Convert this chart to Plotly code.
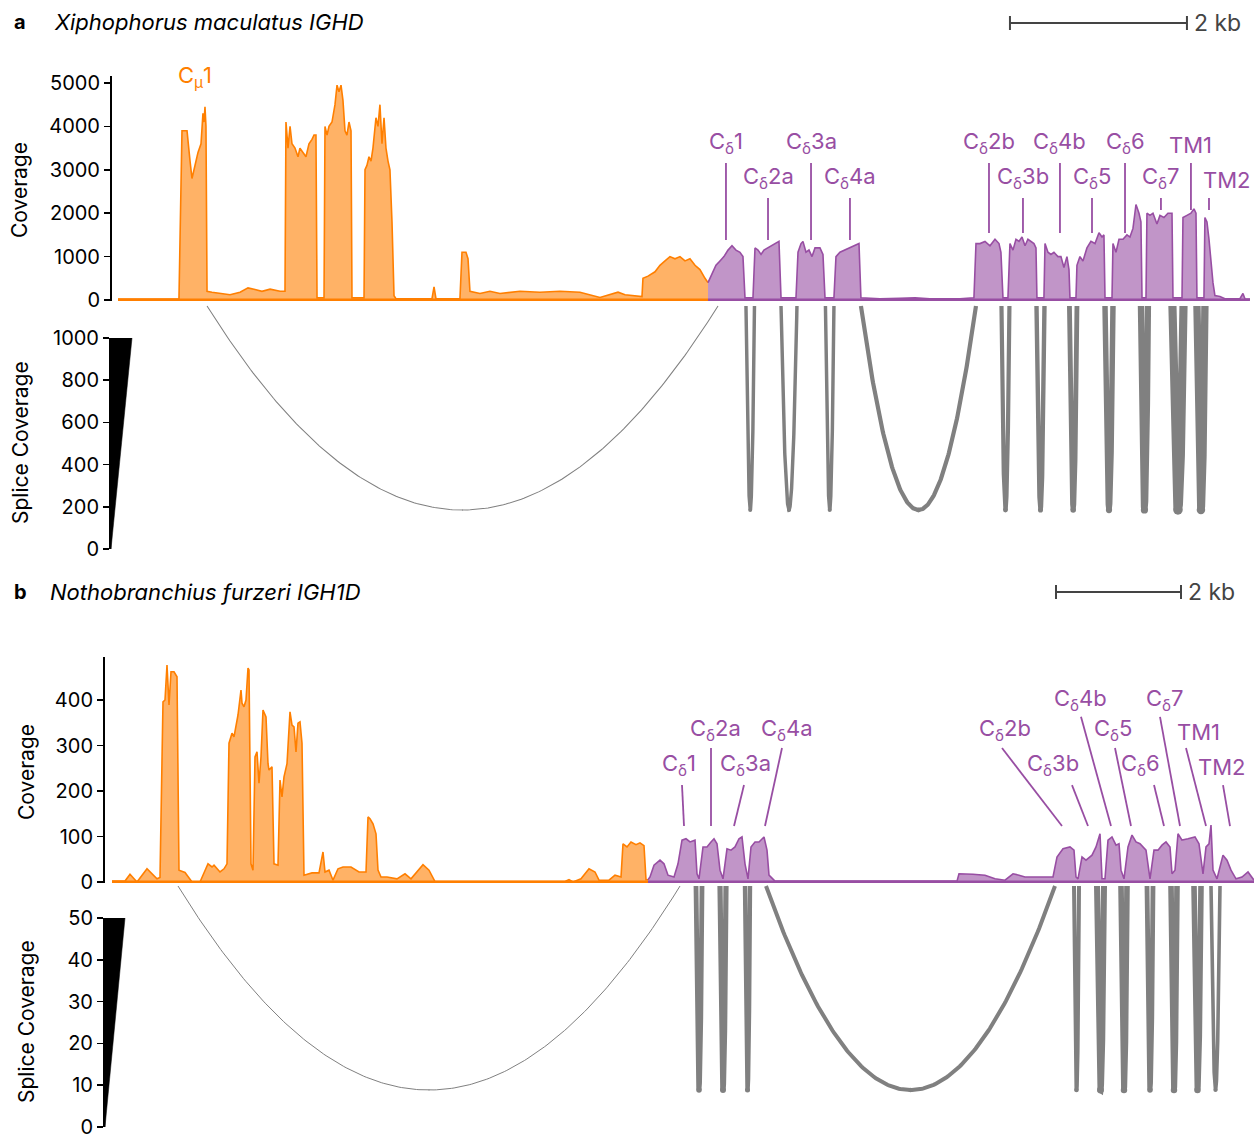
import numpy as np
import plotly.graph_objects as go

W, H = 1260, 1140
FONT = "Inter"
ORANGE = "#FF7F00"
ORANGE_FILL = "rgba(255,127,0,0.6)"
PURPLE = "#984EA3"
PURPLE_FILL = "rgba(152,78,163,0.6)"
ARC_GREY = "#808080"
SCALE_GREY = "#444444"

# ===================== DATA =====================
# ---- Panel a: Xiphophorus maculatus IGHD (positions in kb, coverage in reads) ----
a_mu_pos = [0.000, 0.362, 0.689, 0.723, 0.780, 0.814, 0.836, 0.870, 0.904, 0.938, 0.960, 0.972, 0.983, 0.994,
            1.006, 1.062, 1.153, 1.266, 1.379, 1.469, 1.548, 1.627, 1.718, 1.831, 1.887, 1.898, 1.921, 1.944,
            1.966, 2.000, 2.034, 2.056, 2.090, 2.124, 2.158, 2.192, 2.215, 2.237, 2.249, 2.328, 2.339, 2.362,
            2.384, 2.418, 2.452, 2.475, 2.497, 2.520, 2.542, 2.565, 2.587, 2.610, 2.633, 2.644, 2.780, 2.791,
            2.813, 2.836, 2.859, 2.881, 2.915, 2.938, 2.960, 2.983, 3.006, 3.028, 3.051, 3.073, 3.096, 3.119,
            3.141, 3.548, 3.571, 3.593, 3.864, 3.887, 3.932, 3.955, 3.977, 4.090, 4.203, 4.316, 4.542, 4.768,
            4.994, 5.220, 5.446, 5.559, 5.650, 5.729, 5.842, 5.921, 5.932, 5.989, 6.068, 6.124, 6.181, 6.237,
            6.294, 6.350, 6.407, 6.463, 6.520, 6.576, 6.633, 6.667]
a_mu_cov = [20, 30, 30, 3900, 3900, 3200, 2800, 3100, 3400, 3600, 4300, 4100, 4450, 4000,
            200, 180, 150, 120, 180, 280, 240, 200, 250, 200, 200, 4100, 3500, 4000,
            3600, 3500, 3300, 3500, 3400, 3300, 3600, 3700, 3800, 3800, 50, 50, 4000, 3800,
            4000, 4100, 4500, 4950, 4800, 4950, 4600, 3900, 3800, 4100, 3900, 50, 50, 3000,
            3100, 3300, 3200, 3500, 4200, 4000, 4500, 3600, 4200, 3500, 3200, 3000, 1800, 100,
            30, 30, 300, 30, 30, 1100, 1100, 950, 200, 150, 200, 150, 200, 180,
            200, 180, 60, 120, 180, 120, 100, 80, 500, 550, 650, 800, 900, 1000,
            950, 1000, 900, 950, 800, 700, 500, 400]

a_de_pos = [6.667, 6.712, 6.757, 6.802, 6.847, 6.893, 6.938, 6.983, 7.028, 7.062,
            7.085, 7.175, 7.198, 7.232, 7.266, 7.299, 7.345, 7.390, 7.435, 7.469,
            7.492, 7.661, 7.684, 7.718, 7.740, 7.774, 7.808, 7.842, 7.876, 7.932,
            7.966, 7.989, 8.090, 8.113, 8.158, 8.215, 8.271, 8.328, 8.373, 8.395,
            8.610, 8.836, 9.006, 9.175, 9.514, 9.672, 9.695, 9.740, 9.797, 9.853,
            9.910, 9.955, 9.977, 10.000, 10.056, 10.079, 10.113, 10.147, 10.181, 10.215,
            10.249, 10.282, 10.316, 10.350, 10.373, 10.384, 10.463, 10.475, 10.508, 10.542,
            10.576, 10.621, 10.655, 10.689, 10.723, 10.746, 10.757, 10.825, 10.836, 10.870,
            10.904, 10.949, 10.994, 11.040, 11.085, 11.119, 11.141, 11.153, 11.232, 11.243,
            11.277, 11.311, 11.356, 11.401, 11.435, 11.469, 11.503, 11.537, 11.559, 11.571,
            11.616, 11.627, 11.661, 11.695, 11.740, 11.774, 11.819, 11.864, 11.910, 11.921,
            12.023, 12.034, 12.079, 12.124, 12.158, 12.181, 12.192, 12.271, 12.282, 12.305,
            12.328, 12.350, 12.373, 12.395, 12.452, 12.508, 12.678, 12.712, 12.734, 12.791]
a_de_cov = [400, 600, 800, 900, 1000, 1150, 1250, 1150, 1100, 1000,
            50, 50, 1200, 1150, 1050, 1150, 1200, 1250, 1300, 1350,
            50, 50, 1100, 1300, 1350, 1100, 1150, 1000, 1200, 1200,
            1050, 50, 50, 1000, 1100, 1150, 1200, 1250, 1300, 50,
            30, 40, 50, 30, 30, 50, 1300, 1300, 1350, 1250,
            1400, 1300, 1100, 50, 50, 1300, 1150, 1400, 1350, 1450,
            1250, 1400, 1350, 1300, 1200, 50, 50, 1300, 1100, 1050,
            1100, 1000, 1000, 750, 1000, 700, 50, 50, 800, 1000,
            900, 1200, 1350, 1300, 1550, 1450, 1500, 50, 50, 1300,
            1100, 1400, 1400, 1500, 1450, 1650, 2200, 2000, 1800, 50,
            50, 2000, 1950, 2000, 1750, 1950, 1900, 2000, 2000, 50,
            50, 1900, 1950, 2000, 2100, 2000, 50, 50, 1900, 1800,
            1400, 900, 400, 100, 80, 30, 30, 150, 30, 20]

a_cov_ticks = [0, 1000, 2000, 3000, 4000, 5000]
a_splice_ticks = [0, 200, 400, 600, 800, 1000]
a_splice_max = 1000

a_exon_names = ["C<sub>δ</sub>1", "C<sub>δ</sub>2a", "C<sub>δ</sub>3a", "C<sub>δ</sub>4a",
                "C<sub>δ</sub>2b", "C<sub>δ</sub>3b", "C<sub>δ</sub>4b", "C<sub>δ</sub>5",
                "C<sub>δ</sub>6", "C<sub>δ</sub>7", "TM1", "TM2"]
a_text_x = [6.870, 7.345, 7.831, 8.271, 9.842, 10.226, 10.644, 11.006, 11.379, 11.785, 12.124, 12.531]
a_text_y = [3618, 2811, 3618, 2811, 3618, 2811, 3618, 2811, 3618, 2811, 3571, 2765]
a_line_x_top = [6.870, 7.345, 7.831, 8.271, 9.842, 10.226, 10.644, 11.006, 11.379, 11.785, 12.124, 12.328]
a_line_x_bot = [6.870, 7.345, 7.831, 8.271, 9.842, 10.226, 10.644, 11.006, 11.379, 11.785, 12.124, 12.328]
a_line_y_top = [3157, 2350, 3157, 2350, 3157, 2350, 3157, 2350, 3157, 2350, 3157, 2350]
a_line_y_bot = [1382, 1382, 1382, 1382, 1544, 1544, 1544, 1544, 1544, 2074, 2074, 2074]
a_mu_label_x, a_mu_label_y = 0.870, 5138

a_junc_start = [1.006, 7.096, 7.492, 7.994, 8.395, 9.983, 10.379, 10.751, 11.153, 11.559, 11.915, 12.192]
a_junc_end = [6.780, 7.192, 7.672, 8.090, 9.695, 10.073, 10.469, 10.836, 11.243, 11.638, 12.040, 12.282]
a_junc_cov = [50, 165, 165, 165, 200, 200, 210, 230, 260, 300, 390, 350]

# ---- Panel b: Nothobranchius furzeri IGH1D ----
b_mu_pos = [0.000, 0.208, 0.288, 0.400, 0.560, 0.720, 0.768, 0.816, 0.848, 0.880, 0.912, 0.944, 0.992, 1.040,
            1.072, 1.168, 1.280, 1.408, 1.536, 1.600, 1.632, 1.728, 1.792, 1.840, 1.872, 1.920, 1.952, 1.984,
            2.016, 2.064, 2.080, 2.112, 2.144, 2.176, 2.192, 2.224, 2.256, 2.288, 2.320, 2.352, 2.384, 2.416,
            2.464, 2.496, 2.512, 2.560, 2.592, 2.656, 2.688, 2.720, 2.752, 2.800, 2.848, 2.880, 2.912, 2.944,
            2.976, 3.008, 3.040, 3.072, 3.200, 3.312, 3.360, 3.376, 3.408, 3.472, 3.536, 3.616, 3.696, 3.824,
            3.952, 4.064, 4.096, 4.128, 4.176, 4.224, 4.256, 4.304, 4.400, 4.560, 4.688, 4.784, 4.976, 5.072,
            5.168, 7.248, 7.312, 7.376, 7.504, 7.632, 7.728, 7.792, 7.952, 8.048, 8.144, 8.176, 8.240, 8.304,
            8.384, 8.448, 8.512, 8.544, 8.576]
b_mu_cov = [2, 2, 17, 0, 29, 7, 10, 396, 400, 477, 389, 462, 462, 451,
            26, 21, 0, 0, 40, 33, 37, 22, 29, 40, 305, 327, 319, 345,
            367, 422, 393, 385, 400, 470, 466, 40, 26, 275, 286, 217, 275, 378,
            363, 260, 246, 253, 40, 37, 224, 187, 231, 260, 374, 345, 341, 286,
            349, 352, 305, 15, 20, 20, 56, 66, 22, 26, 4, 29, 33, 33,
            22, 22, 143, 139, 128, 106, 26, 11, 11, 7, 18, 7, 38, 26,
            1, 1, 5, 0, 7, 29, 22, 4, 4, 15, 11, 84, 77, 88,
            82, 86, 80, 5, 5]

b_de_pos = [8.576, 8.608, 8.672, 8.768, 8.832, 8.896, 8.992, 9.056, 9.120, 9.184,
            9.248, 9.328, 9.360, 9.392, 9.456, 9.520, 9.584, 9.632, 9.680, 9.728,
            9.776, 9.840, 9.904, 9.968, 10.032, 10.080, 10.128, 10.176, 10.224, 10.288,
            10.352, 10.432, 10.480, 10.512, 10.608, 13.520, 13.552, 13.616, 13.776, 13.968,
            14.128, 14.288, 14.416, 14.512, 14.608, 14.736, 14.928, 15.056, 15.120, 15.216,
            15.328, 15.392, 15.424, 15.456, 15.520, 15.584, 15.680, 15.744, 15.808, 15.840,
            15.888, 15.936, 16.000, 16.064, 16.112, 16.144, 16.192, 16.256, 16.320, 16.384,
            16.448, 16.544, 16.608, 16.672, 16.736, 16.800, 16.864, 16.928, 16.960, 17.008,
            17.056, 17.120, 17.216, 17.328, 17.392, 17.456, 17.504, 17.552, 17.584, 17.616,
            17.680, 17.776, 17.840, 17.904, 17.984, 18.080, 18.176, 18.272]
b_de_cov = [5, 11, 37, 48, 40, 15, 11, 40, 92, 95,
            88, 92, 18, 7, 77, 77, 88, 95, 84, 26,
            7, 73, 70, 77, 95, 99, 40, 7, 77, 88,
            88, 99, 70, 15, 2, 2, 18, 18, 17, 15,
            7, 4, 18, 15, 11, 11, 11, 11, 55, 73,
            77, 70, 11, 7, 55, 48, 59, 77, 106, 7,
            7, 92, 99, 81, 84, 26, 7, 77, 103, 88,
            84, 70, 7, 70, 70, 81, 88, 77, 18, 26,
            106, 92, 95, 99, 84, 18, 77, 84, 125, 26,
            7, 59, 48, 26, 7, 11, 22, 4]

b_cov_ticks = [0, 100, 200, 300, 400]
b_splice_ticks = [0, 10, 20, 30, 40, 50]
b_splice_max = 50

b_exon_names = a_exon_names
b_text_x = [9.072, 9.648, 10.128, 10.800, 14.288, 15.056, 15.488, 16.016, 16.448, 16.848, 17.376, 17.760]
b_text_y = [257, 334, 257, 334, 334, 257, 400, 334, 257, 400, 330, 253]
b_line_x_top = [9.120, 9.584, 10.112, 10.720, 14.240, 15.360, 15.504, 16.048, 16.672, 16.768, 17.184, 17.776]
b_line_x_bot = [9.152, 9.584, 9.952, 10.448, 15.200, 15.616, 15.984, 16.304, 16.832, 17.088, 17.504, 17.888]
b_line_y_top = [213, 294.5, 213, 294.5, 294.5, 213, 363, 294.5, 213, 363, 294.5, 213]
b_line_y_bot = [123] * 12
b_mu_label_x, b_mu_label_y = 0.960, 547

b_junc_start = [1.056, 9.344, 9.728, 10.128, 10.464, 15.392, 15.760, 16.144, 16.560, 16.944, 17.312, 17.584]
b_junc_end = [9.088, 9.440, 9.824, 10.208, 15.088, 15.472, 15.872, 16.240, 16.656, 17.040, 17.424, 17.728]
b_junc_cov = [2.5, 12, 13, 11, 10, 10, 15, 14, 12, 14, 14, 9]

SCALE_BAR_KB = 2

# ===================== LAYOUT GEOMETRY (pixels) =====================
panels = [
    dict(n0=1, letter="a", title="Xiphophorus maculatus IGHD", title_y=22, title_x=52,
         mu_pos=a_mu_pos, mu_cov=a_mu_cov, de_pos=a_de_pos, de_cov=a_de_cov,
         names=a_exon_names, tx=a_text_x, ty=a_text_y, lxt=a_line_x_top, lxb=a_line_x_bot,
         lyt=a_line_y_top, lyb=a_line_y_bot, mux=a_mu_label_x, muy=a_mu_label_y,
         js=a_junc_start, je=a_junc_end, jc=a_junc_cov,
         cov_ticks=a_cov_ticks, splice_ticks=a_splice_ticks, splice_max=a_splice_max,
         x_left=112, x_right=1252, x_range=[-0.0678, 12.814],
         cov_top=76, cov_bottom=301, cov_range=[-23, 5161],
         leg_left=111, leg_top=338, leg_bottom=549, wedge_px=21,
         arc_dom=(303, 520), arc_range=[-1.049, 0.0147],
         scale_x0=10.079, scale_y=23, cov_title_x=20, cov_title_y=190,
         spl_title_x=20, spl_title_y=443),
    dict(n0=4, letter="b", title="Nothobranchius furzeri IGH1D", title_y=592, title_x=48,
         mu_pos=b_mu_pos, mu_cov=b_mu_cov, de_pos=b_de_pos, de_cov=b_de_cov,
         names=b_exon_names, tx=b_text_x, ty=b_text_y, lxt=b_line_x_top, lxb=b_line_x_bot,
         lyt=b_line_y_top, lyb=b_line_y_bot, mux=b_mu_label_x, muy=b_mu_label_y,
         js=b_junc_start, je=b_junc_end, jc=b_junc_cov,
         cov_ticks=b_cov_ticks, splice_ticks=b_splice_ticks, splice_max=b_splice_max,
         x_left=105, x_right=1254, x_range=[-0.112, 18.272],
         cov_top=657, cov_bottom=883, cov_range=[-2.2, 494.5],
         leg_left=105, leg_top=918, leg_bottom=1127, wedge_px=20,
         arc_dom=(884, 1100), arc_range=[-1.049, 0.0098],
         scale_x0=15.104, scale_y=592, cov_title_x=26, cov_title_y=1022 - 250,
         spl_title_x=26, spl_title_y=1022),
]


def ref(i, letter):
    return letter + ("" if i == 1 else str(i))


def axname(i, letter):
    return letter + "axis" + ("" if i == 1 else str(i))


def py(p):
    return 1 - p / H


fig = go.Figure()
layout_axes = {}
annotations = []
shapes = []

tickstyle = dict(showline=True, linecolor="black", linewidth=2, ticks="outside", ticklen=6,
                 tickwidth=1.5, tickcolor="black", showgrid=False, zeroline=False, automargin=False,
                 ticklabeloverflow="allow",
                 tickfont=dict(family=FONT, size=20, color="black"))

for p in panels:
    ic, il, ia = p["n0"], p["n0"] + 1, p["n0"] + 2
    xc, yc = ref(ic, "x"), ref(ic, "y")
    xl, yl = ref(il, "x"), ref(il, "y")
    xa, ya = ref(ia, "x"), ref(ia, "y")

    # coverage areas
    fig.add_trace(go.Scatter(x=p["mu_pos"], y=p["mu_cov"], mode="lines",
                             line=dict(color=ORANGE, width=1.6), fill="tozeroy",
                             fillcolor=ORANGE_FILL, xaxis=xc, yaxis=yc, hoverinfo="skip"))
    fig.add_trace(go.Scatter(x=p["de_pos"], y=p["de_cov"], mode="lines",
                             line=dict(color=PURPLE, width=1.6), fill="tozeroy",
                             fillcolor=PURPLE_FILL, xaxis=xc, yaxis=yc, hoverinfo="skip"))
    # baselines
    fig.add_trace(go.Scatter(x=[p["mu_pos"][0], p["mu_pos"][-1]], y=[0, 0], mode="lines",
                             line=dict(color=ORANGE, width=3), xaxis=xc, yaxis=yc, hoverinfo="skip"))
    fig.add_trace(go.Scatter(x=[p["de_pos"][0], p["de_pos"][-1]], y=[0, 0], mode="lines",
                             line=dict(color=PURPLE, width=3), xaxis=xc, yaxis=yc, hoverinfo="skip"))

    # leader lines
    lx, ly = [], []
    for x0, x1, y0, y1 in zip(p["lxt"], p["lxb"], p["lyt"], p["lyb"]):
        lx += [x0, x1, None]
        ly += [y0, y1, None]
    fig.add_trace(go.Scatter(x=lx, y=ly, mode="lines", line=dict(color=PURPLE, width=1.8),
                             xaxis=xc, yaxis=yc, hoverinfo="skip"))

    for name, x, y in zip(p["names"], p["tx"], p["ty"]):
        annotations.append(dict(text=name, x=x, y=y, xref=xc, yref=yc, showarrow=False,
                                xanchor="center", yanchor="middle",
                                font=dict(family=FONT, size=22, color=PURPLE)))
    annotations.append(dict(text="C<sub>μ</sub>1", x=p["mux"], y=p["muy"], xref=xc, yref=yc,
                            showarrow=False, xanchor="center", yanchor="middle",
                            font=dict(family=FONT, size=22, color=ORANGE)))

    # splice arcs (parabolic), width proportional to splice coverage
    t = np.linspace(0, 1, 201)
    for s, e, c in zip(p["js"], p["je"], p["jc"]):
        wpx = c * p["wedge_px"] / p["splice_max"]
        fig.add_trace(go.Scatter(x=s + (e - s) * t, y=-4 * t * (1 - t), mode="lines",
                                 line=dict(color=ARC_GREY, width=wpx),
                                 xaxis=xa, yaxis=ya, hoverinfo="skip"))
        # rounded bottom of the arc
        fig.add_trace(go.Scatter(x=[(s + e) / 2], y=[-1], mode="markers",
                                 marker=dict(color=ARC_GREY, size=wpx * 1.15, line=dict(width=0)),
                                 xaxis=xa, yaxis=ya, hoverinfo="skip"))

    # wedge legend for splice coverage
    fig.add_trace(go.Scatter(x=[0, 0, p["wedge_px"], 0], y=[0, p["splice_max"], p["splice_max"], 0],
                             mode="lines", fill="toself", fillcolor="black",
                             line=dict(color="black", width=0.5), xaxis=xl, yaxis=yl, hoverinfo="skip"))

    # axes
    xdom = [p["x_left"] / W, p["x_right"] / W]
    layout_axes[axname(ic, "x")] = dict(domain=xdom, range=p["x_range"], anchor=yc, visible=False)
    layout_axes[axname(ic, "y")] = dict(domain=[py(p["cov_bottom"]), py(p["cov_top"])],
                                        range=p["cov_range"], anchor=xc, tickvals=p["cov_ticks"],
                                        **tickstyle)
    layout_axes[axname(il, "x")] = dict(domain=[p["leg_left"] / W, (p["leg_left"] + 30) / W],
                                        range=[0, 30], anchor=yl, visible=False)
    layout_axes[axname(il, "y")] = dict(domain=[py(p["leg_bottom"]), py(p["leg_top"])],
                                        range=[0, p["splice_max"]], anchor=xl,
                                        tickvals=p["splice_ticks"], **tickstyle)
    layout_axes[axname(ia, "x")] = dict(domain=xdom, range=p["x_range"], anchor=ya, visible=False)
    layout_axes[axname(ia, "y")] = dict(domain=[py(p["arc_dom"][1]), py(p["arc_dom"][0])],
                                        range=p["arc_range"], anchor=xa, visible=False)

    # titles
    annotations.append(dict(text="<b>" + p["letter"] + "</b>", x=12 / W, y=py(p["title_y"]),
                            xref="paper", yref="paper", showarrow=False, xanchor="left",
                            yanchor="middle", font=dict(family=FONT, size=20, color="black")))
    annotations.append(dict(text="<i>" + p["title"] + "</i>", x=p["title_x"] / W, y=py(p["title_y"]),
                            xref="paper", yref="paper", showarrow=False, xanchor="left",
                            yanchor="middle", font=dict(family=FONT, size=22, color="black")))
    # axis titles
    annotations.append(dict(text="Coverage", x=p["cov_title_x"] / W, y=py(p["cov_title_y"]),
                            xref="paper", yref="paper", showarrow=False, textangle=-90,
                            xanchor="center", yanchor="middle",
                            font=dict(family=FONT, size=21, color="black")))
    annotations.append(dict(text="Splice Coverage", x=p["spl_title_x"] / W, y=py(p["spl_title_y"]),
                            xref="paper", yref="paper", showarrow=False, textangle=-90,
                            xanchor="center", yanchor="middle",
                            font=dict(family=FONT, size=21, color="black")))

    # scale bar
    sx0, sx1 = p["scale_x0"], p["scale_x0"] + SCALE_BAR_KB
    sy = py(p["scale_y"])
    tick_h = 7 / H
    shapes.append(dict(type="line", xref=xc, yref="paper", x0=sx0, x1=sx1, y0=sy, y1=sy,
                       line=dict(color=SCALE_GREY, width=2)))
    for sxx in (sx0, sx1):
        shapes.append(dict(type="line", xref=xc, yref="paper", x0=sxx, x1=sxx,
                           y0=sy - tick_h, y1=sy + tick_h, line=dict(color=SCALE_GREY, width=2)))
    annotations.append(dict(text="2 kb", x=sx1, y=sy, xref=xc, yref="paper", showarrow=False,
                            xanchor="left", yanchor="middle", xshift=5,
                            font=dict(family=FONT, size=23, color=SCALE_GREY)))

fig.update_layout(
    width=W, height=H, autosize=False,
    margin=dict(l=0, r=0, t=0, b=0, pad=0, autoexpand=False),
    paper_bgcolor="white", plot_bgcolor="rgba(0,0,0,0)",
    showlegend=False, hovermode=False,
    annotations=annotations, shapes=shapes,
    **layout_axes,
)

fig.write_html("out.html",
               config={"displayModeBar": False, "staticPlot": True},
               post_script="document.body.style.margin='0';document.body.style.padding='0';")
